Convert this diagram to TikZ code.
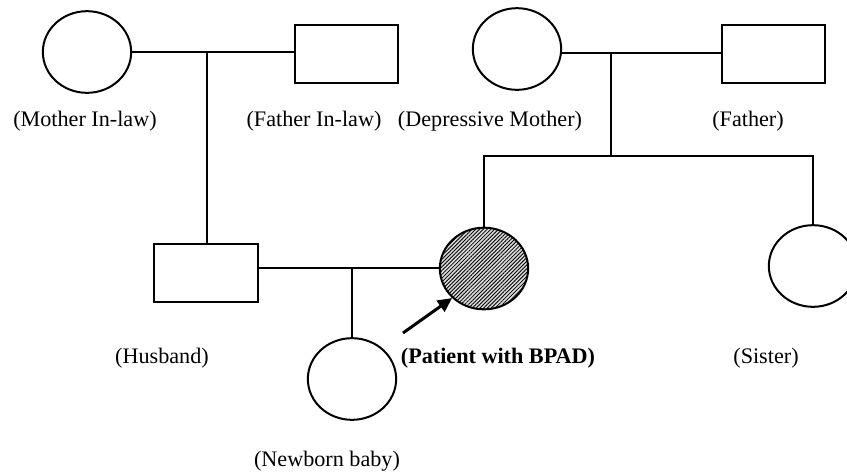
\documentclass[tikz,border=0pt]{standalone}
\usepackage{fontspec}
\setmainfont{Liberation Serif}
\usepackage{tikz}
\usetikzlibrary{shapes.geometric,arrows.meta,patterns.meta}
\tikzset{
  female/.style   = {draw, ellipse, line width=1.2pt, inner sep=0pt,
                     minimum width=53pt, minimum height=49pt},
  male/.style     = {draw, rectangle, line width=1.2pt, inner sep=0pt,
                     minimum width=62pt, minimum height=35pt},
  affected/.style = {fill=gray!30,
                     postaction={pattern={Lines[angle=45,distance=1.6pt,line width=0.5pt]}}},
  tag/.style      = {font=\fontsize{13.3}{16}\selectfont, inner sep=0pt},
  link/.style     = {line width=1.2pt},
}
\newcommand{\boldtag}{\fontsize{13.3}{16}\selectfont\bfseries}

\begin{document}
\begin{tikzpicture}[x=0.6pt,y=-0.6pt]
  \useasboundingbox (0,0) rectangle (847,475);
  \clip (0,0) rectangle (847,475);
  % grandparents
  \node[female] (mil) at (87,52) {};
  \node[male]   (fil) at (346.5,54) {};
  \node[female] (dm)  at (517,49) {};
  \node[male]   (fa)  at (773.5,54) {};
  % couple and sister
  \node[male]            (hu) at (206,273) {};
  \node[female,affected] (pt) at (484,268.5) {};
  \node[female]          (si) at (813,266) {};
  % newborn
  \node[female] (nb) at (352,379) {};

  % labels
  \node[tag] (lmil) at (85,121)  {(Mother In-law)};
  \node[tag] (lfil) at (314,121) {(Father In-law)};
  \node[tag] (ldm)  at (490,121) {(Depressive Mother)};
  \node[tag] (lfa)  at (748,121) {(Father)};
  \node[tag] (lhu)  at (162,358) {(Husband)};
  \node[tag,font=\boldtag] (lpt) at (498,358) {(Patient with BPAD)};
  \node[tag] (lsi)  at (766,358) {(Sister)};
  \node[tag] (lnb)  at (327,461) {(Newborn baby)};

  % lines
  \coordinate (c1) at (207,52);
  \coordinate (c2) at (611,53);
  \coordinate (s1) at (611,156);
  \coordinate (c3) at (352,268);
  \draw[link] (c1 -| mil.east) -- (c1 -| fil.west);
  \draw[link] (c1) -- (c1 |- hu.north);
  \draw[link] (c2 -| dm.east) -- (c2 -| fa.west);
  \draw[link] (c2) -- (s1);
  \draw[link] (pt.north) -- (pt.north |- s1) -- (si.north |- s1) -- (si.north);
  \draw[link] (c3 -| hu.east) -- (c3 -| pt.west);
  \draw[link] (c3) -- (nb.north);

  % proband arrow
  \coordinate (ar) at (403,333);
  \draw[line width=1.8pt, -{Triangle[length=8.5pt,width=8pt]}] (ar) -- (pt.south west);
\end{tikzpicture}
\end{document}
